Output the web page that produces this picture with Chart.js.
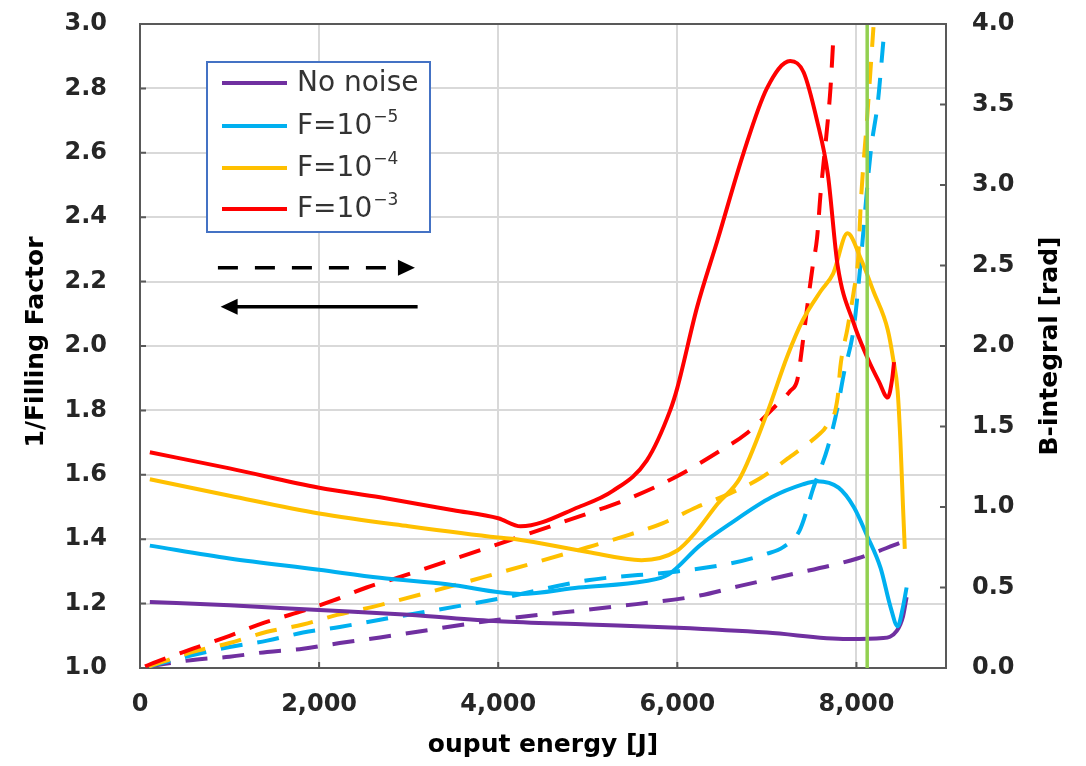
<!DOCTYPE html>
<html>
<head>
<meta charset="utf-8">
<script src="https://cdn.jsdelivr.net/npm/chart.js@4"></script>
<style>
  body { margin: 0; background: #fff; }
  #wrap { width: 1086px; height: 766px; }
</style>
</head>
<body>
<div id="wrap"><canvas id="chart"></canvas></div>
<script>
// energy [J] and values
var noNoiseE = [110, 1000, 2000, 3000, 4000, 5000, 6000, 7000, 7900, 8300, 8450, 8520, 8560];
var noNoiseFF = [1.205, 1.195, 1.18, 1.165, 1.145, 1.135, 1.125, 1.11, 1.09, 1.093, 1.115, 1.16, 1.22];
var noNoiseBE = [100, 590, 1000, 1420, 1820, 2230, 2680, 4000, 5280, 6250, 6700, 7180, 8010, 8500];
var noNoiseB = [0.01, 0.05, 0.07, 0.10, 0.12, 0.155, 0.19, 0.30, 0.38, 0.45, 0.51, 0.57, 0.68, 0.78];

var f5E = [110, 1000, 2000, 2680, 3430, 4250, 4900, 5650, 5900, 6250, 6600, 7050, 7400, 7560, 7800, 7970, 8120, 8270, 8380, 8460, 8520, 8560];
var f5FF = [1.38, 1.34, 1.305, 1.28, 1.26, 1.23, 1.25, 1.27, 1.29, 1.38, 1.45, 1.53, 1.57, 1.58, 1.56, 1.50, 1.41, 1.31, 1.19, 1.13, 1.19, 1.25];
var f5BE = [100, 590, 1000, 1420, 1820, 2230, 2680, 4000, 5000, 6000, 6600, 7000, 7180, 7370, 7520, 7680, 7790, 7860, 7970, 8030, 8160, 8240, 8300];
var f5B = [0.01, 0.08, 0.13, 0.17, 0.22, 0.255, 0.30, 0.43, 0.545, 0.60, 0.65, 0.71, 0.75, 0.86, 1.12, 1.37, 1.62, 1.83, 2.11, 2.42, 3.21, 3.52, 3.89];

var f4E = [110, 1000, 2000, 3000, 4000, 4200, 5000, 5600, 6000, 6200, 6450, 6700, 7000, 7230, 7400, 7600, 7740, 7900, 8050, 8190, 8350, 8410, 8460, 8490, 8520, 8540];
var f4FF = [1.586, 1.535, 1.48, 1.44, 1.405, 1.40, 1.36, 1.335, 1.365, 1.42, 1.51, 1.59, 1.79, 1.97, 2.08, 2.17, 2.225, 2.35, 2.27, 2.17, 2.05, 1.96, 1.86, 1.71, 1.50, 1.37];
var f4BE = [100, 590, 1000, 1420, 1820, 2200, 2600, 4000, 5000, 5360, 5840, 6220, 6590, 6930, 7230, 7600, 7650, 7790, 7820, 7900, 7970, 8020, 8050, 8120, 8190];
var f4B = [0.01, 0.10, 0.155, 0.225, 0.27, 0.33, 0.38, 0.59, 0.75, 0.81, 0.90, 1.0, 1.085, 1.18, 1.30, 1.46, 1.49, 1.68, 1.87, 2.11, 2.34, 2.55, 2.90, 3.42, 3.98];

var f3E = [110, 1000, 2000, 2680, 3500, 4000, 4250, 4900, 5280, 5660, 5920, 6000, 6220, 6450, 6740, 7000, 7260, 7410, 7560, 7680, 7790, 7970, 8120, 8250, 8350, 8400, 8420];
var f3FF = [1.67, 1.62, 1.56, 1.53, 1.49, 1.465, 1.44, 1.50, 1.55, 1.645, 1.80, 1.87, 2.12, 2.33, 2.60, 2.80, 2.885, 2.85, 2.70, 2.535, 2.25, 2.07, 1.965, 1.89, 1.84, 1.90, 1.95];
var f3BE = [56, 190, 590, 1000, 1380, 1790, 2160, 2530, 2870, 4000, 5000, 5360, 5960, 6480, 6780, 7120, 7260, 7340, 7400, 7450, 7510, 7560, 7600, 7680, 7710, 7740];
var f3B = [0.01, 0.04, 0.12, 0.20, 0.28, 0.35, 0.42, 0.50, 0.56, 0.77, 0.96, 1.03, 1.18, 1.35, 1.46, 1.64, 1.72, 1.79, 2.02, 2.24, 2.49, 2.67, 2.95, 3.40, 3.60, 3.89];

var greenLineE = 8120;
var xTicks = [0, 2000, 4000, 6000, 8000];

var seriesNames = ["No noise", "F=10", "F=10", "F=10"];
var seriesExp = ["", "\u22125", "\u22124", "\u22123"];
var colors = ["#7030a0", "#00b0f0", "#ffc000", "#ff0000"];

function pts(xs, ys) {
  return xs.map(function (x, i) { return { x: x, y: ys[i] }; });
}

function solid(data, color) {
  return { data: data, yAxisID: "y", borderColor: color, borderWidth: 4,
    pointRadius: 0, cubicInterpolationMode: "monotone", fill: false, order: 2 };
}
function dashed(data, color) {
  return { data: data, yAxisID: "y2", borderColor: color, borderWidth: 4, borderDash: [22, 15],
    pointRadius: 0, cubicInterpolationMode: "monotone", fill: false, order: 3 };
}

// keep the y axes from pushing the plot area down
function fixY(s) {
  s.width = 140;
  s.paddingTop = 0;
  s.paddingBottom = 0;
}

var FONT = "DejaVu Sans";

// legend box, arrows, titles and frame
var decor = {
  id: "decor",
  afterDraw: function (chart) {
    var ctx = chart.ctx, a = chart.chartArea;
    var sx = chart.scales.x, sy = chart.scales.y, sy2 = chart.scales.y2;
    ctx.save();
    // frame top + small inner tick marks
    ctx.strokeStyle = "#595959";
    ctx.lineWidth = 2;
    ctx.beginPath();
    ctx.moveTo(a.left, a.top);
    ctx.lineTo(a.right, a.top);
    sy.ticks.forEach(function (t) {
      var p = sy.getPixelForValue(t.value);
      ctx.moveTo(a.left, p);
      ctx.lineTo(a.left + 6, p);
    });
    sy2.ticks.forEach(function (t) {
      var p = sy2.getPixelForValue(t.value);
      ctx.moveTo(a.right - 6, p);
      ctx.lineTo(a.right, p);
    });
    sx.ticks.forEach(function (t) {
      var p = sx.getPixelForValue(t.value);
      ctx.moveTo(p, a.bottom);
      ctx.lineTo(p, a.bottom - 6);
    });
    ctx.stroke();

    // legend
    ctx.fillStyle = "#fff";
    ctx.fillRect(207, 62, 223, 170);
    ctx.strokeStyle = "#4472c4";
    ctx.lineWidth = 2;
    ctx.strokeRect(207, 62, 223, 170);
    var ly = [83, 126, 168, 209];
    for (var i = 0; i < 4; i++) {
      ctx.strokeStyle = colors[i];
      ctx.lineWidth = 4;
      ctx.beginPath();
      ctx.moveTo(222, ly[i]);
      ctx.lineTo(287, ly[i]);
      ctx.stroke();
      ctx.fillStyle = "#333";
      ctx.textBaseline = "middle";
      ctx.textAlign = "left";
      ctx.font = "28px '" + FONT + "'";
      ctx.fillText(seriesNames[i], 297, ly[i] + 1);
      if (seriesExp[i]) {
        var w = ctx.measureText(seriesNames[i]).width;
        ctx.font = "17px '" + FONT + "'";
        ctx.fillText(seriesExp[i], 297 + w + 1, ly[i] - 8);
      }
    }

    // direction arrows
    ctx.strokeStyle = "#000";
    ctx.fillStyle = "#000";
    ctx.lineWidth = 3.5;
    var x1 = sx.getPixelForValue(870), x2 = sx.getPixelForValue(2880), xh = sx.getPixelForValue(3070);
    var yd = sy.getPixelForValue(2.243), ys = sy.getPixelForValue(2.122);
    ctx.setLineDash([20, 17]);
    ctx.beginPath();
    ctx.moveTo(x1, yd);
    ctx.lineTo(x2, yd);
    ctx.stroke();
    ctx.setLineDash([]);
    ctx.beginPath();
    ctx.moveTo(xh, yd);
    ctx.lineTo(xh - 17, yd - 8);
    ctx.lineTo(xh - 17, yd + 8);
    ctx.closePath();
    ctx.fill();
    var s1 = sx.getPixelForValue(3100), s2 = sx.getPixelForValue(1000), sh = sx.getPixelForValue(900);
    ctx.beginPath();
    ctx.moveTo(s1, ys);
    ctx.lineTo(s2, ys);
    ctx.stroke();
    ctx.beginPath();
    ctx.moveTo(sh, ys);
    ctx.lineTo(sh + 17, ys - 8);
    ctx.lineTo(sh + 17, ys + 8);
    ctx.closePath();
    ctx.fill();

    // axis titles
    ctx.fillStyle = "#000";
    ctx.font = "bold 25px '" + FONT + "'";
    ctx.textAlign = "center";
    ctx.textBaseline = "middle";
    ctx.fillText("ouput energy [J]", (a.left + a.right) / 2, 745);
    ctx.save();
    ctx.translate(36, 342);
    ctx.rotate(-Math.PI / 2);
    ctx.fillText("1/Filling Factor", 0, 0);
    ctx.restore();
    ctx.save();
    ctx.translate(1050, 346);
    ctx.rotate(-Math.PI / 2);
    ctx.fillText("B-integral [rad]", 0, 0);
    ctx.restore();
    ctx.restore();
  }
};

var datasets = [
  { data: [{ x: greenLineE, y: 1 }, { x: greenLineE, y: 3 }], yAxisID: "y", borderColor: "#92d050",
    borderWidth: 3.5, pointRadius: 0, fill: false, order: 0 },
  solid(pts(f3E, f3FF), colors[3]),
  solid(pts(f4E, f4FF), colors[2]),
  solid(pts(f5E, f5FF), colors[1]),
  solid(pts(noNoiseE, noNoiseFF), colors[0]),
  dashed(pts(f3BE, f3B), colors[3]),
  dashed(pts(f4BE, f4B), colors[2]),
  dashed(pts(f5BE, f5B), colors[1]),
  dashed(pts(noNoiseBE, noNoiseB), colors[0])
];

var tickFont = { family: FONT, size: 24, weight: "bold" };

new Chart(document.getElementById("chart"), {
  type: "line",
  data: { datasets: datasets },
  plugins: [decor],
  options: {
    responsive: true,
    maintainAspectRatio: false,
    animation: false,
    layout: { padding: { top: 24, left: 0, right: 0, bottom: 0 } },
    plugins: { legend: { display: false }, tooltip: { enabled: false } },
    scales: {
      x: {
        type: "linear", min: 0, max: 9000,
        afterBuildTicks: function (s) { s.ticks = xTicks.map(function (v) { return { value: v }; }); },
        afterFit: function (s) { s.height = 98; s.paddingLeft = 0; s.paddingRight = 0; },
        ticks: { font: tickFont, color: "#262626", padding: 22, maxRotation: 0,
          callback: function (v) { return Number(v).toLocaleString("en-US"); } },
        grid: { color: "#d9d9d9", lineWidth: 2, drawTicks: false },
        border: { color: "#595959", width: 2 }
      },
      y: {
        position: "left", min: 1, max: 3,
        afterFit: fixY,
        ticks: { stepSize: 0.2, font: tickFont, color: "#262626", padding: 33,
          callback: function (v) { return Number(v).toFixed(1); } },
        grid: { color: "#d9d9d9", lineWidth: 2, drawTicks: false },
        border: { color: "#595959", width: 2 }
      },
      y2: {
        position: "right", min: 0, max: 4,
        afterFit: fixY,
        ticks: { stepSize: 0.5, font: tickFont, color: "#262626", padding: 26,
          callback: function (v) { return Number(v).toFixed(1); } },
        grid: { drawOnChartArea: false, drawTicks: false },
        border: { color: "#595959", width: 2 }
      }
    }
  }
});
</script>
</body>
</html>
